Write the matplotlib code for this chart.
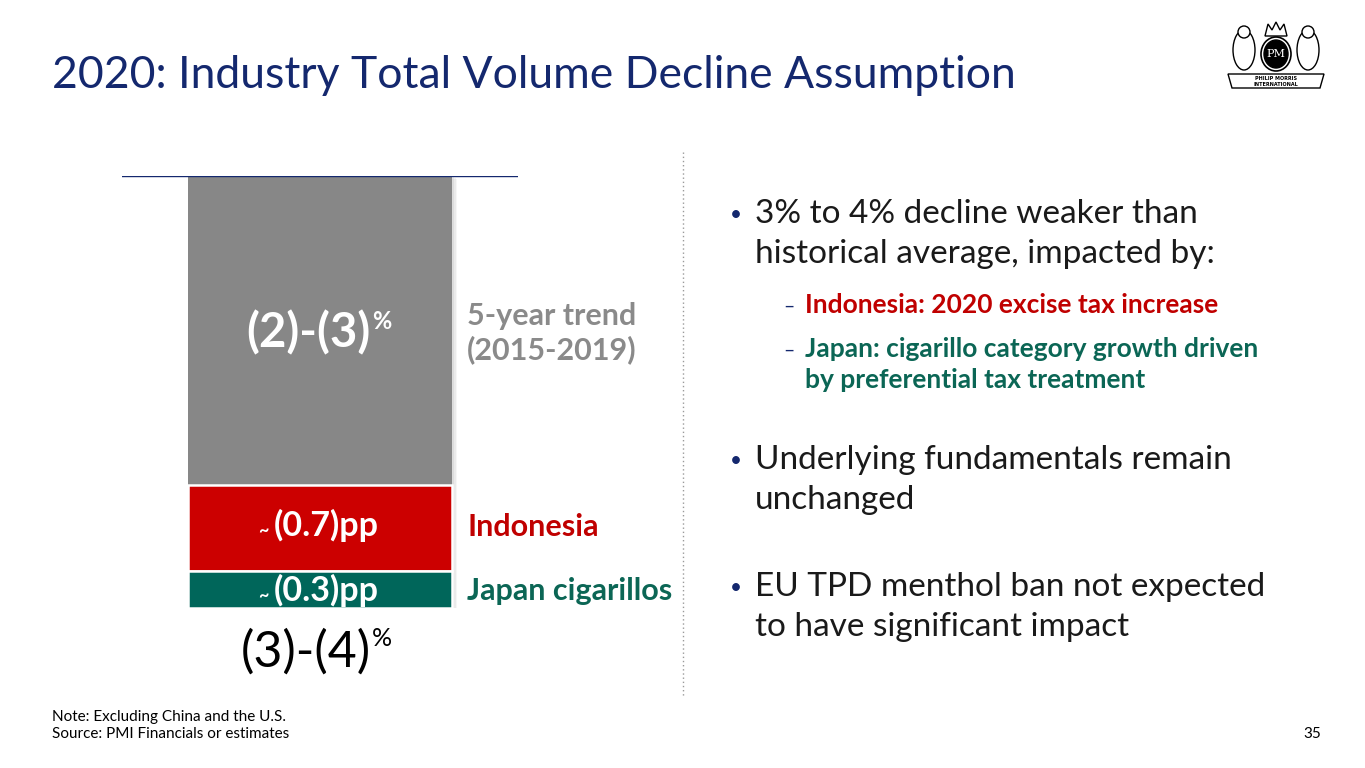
import matplotlib
matplotlib.use("Agg")
import matplotlib.pyplot as plt
from matplotlib.patches import Ellipse, Polygon

plt.rcParams['font.family'] = ['Lato', 'DejaVu Sans']

# ---- data ----
segments = ["5-year trend", "Indonesia", "Japan cigarillos"]
values = [2.5, 0.7, 0.3]
seg_labels = ["(2)-(3)", "(0.7)pp", "(0.3)pp"]
side_labels = ["5-year trend\n(2015-2019)", "Indonesia", "Japan cigarillos"]
total_label = "(3)-(4)"
colors = ["#878787", "#cc0000", "#00665a"]
side_colors = ["#8a8a8a", "#c00000", "#0b6655"]

W, H = 1365, 768
fig = plt.figure(figsize=(W / 100, H / 100), dpi=100)
fig.patch.set_facecolor("white")

def fx(x):
    return x / W

def fy(y):
    return 1 - y / H

NAVY = "#14286e"

# title
fig.text(fx(52), fy(75), "2020: Industry Total Volume Decline Assumption",
         fontsize=32, color=NAVY, va="center", ha="left")

# ---- bar axes ----
ax_l, ax_r, ax_t, ax_b = 122, 518, 176, 608
ax = fig.add_axes([fx(ax_l), fy(ax_b), fx(ax_r - ax_l), (ax_b - ax_t) / H])
ax.set_xlim(0, 1)
total = sum(values)
ax.set_ylim(total, 0)
ax.axis("off")
ax.axhline(0, color=NAVY, lw=1.0, zorder=5)

bx = 0.5
bw = (453 - 188) / (ax_r - ax_l)
bottom = 0
for i, (v, c) in enumerate(zip(values, colors)):
    # soft shadow
    for k, a in enumerate((0.10, 0.08, 0.06)):
        ax.bar(bx + 0.004 * (k + 1), v, width=bw, bottom=bottom + 0.008 * (k + 1),
               color="#666666", alpha=a, zorder=1, edgecolor="none")
    ax.bar(bx, v, width=bw, bottom=bottom, color=c, edgecolor="white",
           linewidth=1.8 if i > 0 else 0, zorder=2)
    bottom += v

# segment labels (placed by pixel centre, in figure coordinates)
fig.text(fx(370), fy(333), seg_labels[0], fontsize=34, fontweight="bold",
         color="white", ha="right", va="center", zorder=4)
fig.text(fx(372), fy(322), "%", fontsize=17, fontweight="bold",
         color="white", ha="left", va="center", zorder=4)
for lab, yc in zip(seg_labels[1:], (525, 590)):
    fig.text(fx(379), fy(yc), lab, fontsize=24.5, fontweight="bold",
             color="white", ha="right", va="center", zorder=4)
    fig.text(fx(263), fy(yc + 6), "~", fontsize=13, fontweight="bold",
             color="white", ha="center", va="center", zorder=4)

# side labels
fig.text(fx(467), fy(333), side_labels[0], fontsize=22, fontweight="bold",
         color=side_colors[0], ha="left", va="center", linespacing=1.2)
fig.text(fx(467), fy(527), side_labels[1], fontsize=22, fontweight="bold",
         color=side_colors[1], ha="left", va="center")
fig.text(fx(467), fy(591), side_labels[2], fontsize=22, fontweight="bold",
         color=side_colors[2], ha="left", va="center")

# total label
fig.text(fx(371), fy(652), total_label, fontsize=36, color="black",
         ha="right", va="center")
fig.text(fx(372), fy(638), "%", fontsize=18, color="black", ha="left", va="center")

# dotted separator
fig.add_artist(plt.Line2D([fx(683), fx(683)], [fy(152), fy(697)],
                          color="#9a9a9a", lw=1.0, ls=(0, (1, 2))))

# bullets
TXT = "#1a1a1a"
def bullet(y, lines):
    fig.text(fx(736), fy(y + 1), "•", fontsize=15, color=NAVY, ha="center", va="center")
    for k, ln in enumerate(lines):
        fig.text(fx(755), fy(y + k * 40), ln, fontsize=24, color=TXT,
                 ha="left", va="center")

bullet(214, ["3% to 4% decline weaker than", "historical average, impacted by:"])
bullet(460, ["Underlying fundamentals remain", "unchanged"])
bullet(587, ["EU TPD menthol ban not expected", "to have significant impact"])

def sub(y, lines, color):
    fig.text(fx(783), fy(y + 1), "–", fontsize=14, color=NAVY, ha="left", va="center")
    for k, ln in enumerate(lines):
        fig.text(fx(805), fy(y + k * 31), ln, fontsize=19, fontweight="bold",
                 color=color, ha="left", va="center")

sub(305, ["Indonesia: 2020 excise tax increase"], "#c00000")
sub(349, ["Japan: cigarillo category growth driven", "by preferential tax treatment"], "#0b6655")

# footer
fig.text(fx(52), fy(717), "Note: Excluding China and the U.S.", fontsize=11,
         color="black", ha="left", va="center")
fig.text(fx(52), fy(734), "Source: PMI Financials or estimates", fontsize=11,
         color="black", ha="left", va="center")
fig.text(fx(1321), fy(734), "35", fontsize=11, color="black", ha="right", va="center")

# logo (simplified)
lax = fig.add_axes([fx(1222), fy(96), fx(108), 80 / H])
lax.set_xlim(0, 108)
lax.set_ylim(0, 80)
lax.axis("off")
lax.add_patch(Ellipse((54, 42), 30, 34, facecolor="white", edgecolor="black", lw=1.2))
lax.add_patch(Ellipse((54, 42), 24, 28, facecolor="black", edgecolor="black"))
lax.text(54, 42, "PM", color="white", fontsize=8, ha="center", va="center",
         family="DejaVu Serif")
lax.add_patch(Polygon([[43, 60], [46, 72], [50, 66], [54, 74], [58, 66], [62, 72], [65, 60]],
                      closed=True, facecolor="white", edgecolor="black", lw=1))
for xc in (22, 86):
    lax.add_patch(Ellipse((xc, 46), 22, 40, facecolor="white", edgecolor="black", lw=1))
    lax.add_patch(Ellipse((xc, 64), 12, 12, facecolor="white", edgecolor="black", lw=1))
lax.add_patch(Polygon([[6, 22], [102, 22], [98, 8], [10, 8]], closed=True,
                      facecolor="white", edgecolor="black", lw=1))
lax.text(54, 18, "PHILIP MORRIS", fontsize=3.5, ha="center", va="center",
         fontweight="bold", family="DejaVu Sans")
lax.text(54, 12, "INTERNATIONAL", fontsize=3.5, ha="center", va="center",
         fontweight="bold", family="DejaVu Sans")

fig.savefig("out.png", dpi=100, facecolor="white")
